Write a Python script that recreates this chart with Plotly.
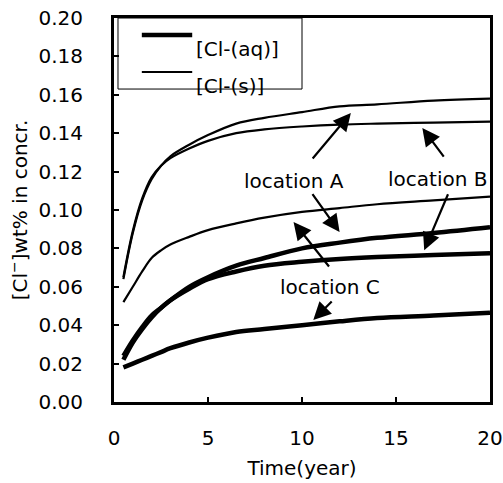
import plotly.graph_objects as go

# ---- data ----
time_x = [0.5, 1.0, 1.5, 2.0, 2.5, 3.0, 4.0, 5.0, 6.5, 8.0, 10.0, 12.0, 14.0, 17.0, 20.0]

cl_s_A  = [0.064, 0.088, 0.105, 0.116, 0.123, 0.128, 0.134, 0.139, 0.145, 0.148, 0.151, 0.154, 0.155, 0.157, 0.158]
cl_s_B  = [0.065, 0.089, 0.106, 0.117, 0.123, 0.127, 0.132, 0.136, 0.140, 0.142, 0.1435, 0.1445, 0.145, 0.1455, 0.146]
cl_s_C  = [0.052, 0.060, 0.068, 0.075, 0.079, 0.082, 0.086, 0.0895, 0.093, 0.096, 0.099, 0.101, 0.103, 0.105, 0.107]
cl_aq_A = [0.022, 0.031, 0.038, 0.044, 0.049, 0.053, 0.060, 0.065, 0.071, 0.075, 0.080, 0.083, 0.0855, 0.088, 0.091]
cl_aq_B = [0.024, 0.032, 0.039, 0.045, 0.049, 0.053, 0.059, 0.064, 0.068, 0.071, 0.073, 0.0745, 0.0755, 0.0765, 0.0775]
cl_aq_C = [0.018, 0.020, 0.022, 0.024, 0.026, 0.028, 0.031, 0.0335, 0.0365, 0.038, 0.040, 0.042, 0.0437, 0.045, 0.0465]

x_ticks = [0, 5, 10, 15, 20]
y_ticks = [0.00, 0.02, 0.04, 0.06, 0.08, 0.10, 0.12, 0.14, 0.16, 0.18, 0.20]
legend_labels = ["[Cl-(aq)]", "[Cl-(s)]"]

# labels and arrows: (text, text_x, text_y, [(tail_x, tail_y, head_x, head_y), ...])
labels = [
    ("location A", 9.6, 0.115, [(10.5, 0.126, 12.6, 0.1505), (10.5, 0.109, 12.0, 0.0885)]),
    ("location B", 17.2, 0.116, [(17.6, 0.127, 16.4, 0.1427), (17.8, 0.109, 16.5, 0.079)]),
    ("location C", 11.5, 0.060, [(11.5, 0.0698, 9.55, 0.0938), (11.66, 0.0531, 10.6, 0.0427)]),
]

FONT = "DejaVu Sans"
thin_w, thick_w = 2.2, 4.5

fig = go.Figure()
for ys in (cl_s_A, cl_s_B, cl_s_C):
    fig.add_trace(go.Scatter(x=time_x, y=ys, mode="lines", line=dict(color="black", width=thin_w, shape="spline"),
                             showlegend=False, hoverinfo="skip"))
for ys in (cl_aq_A, cl_aq_B, cl_aq_C):
    fig.add_trace(go.Scatter(x=time_x, y=ys, mode="lines", line=dict(color="black", width=thick_w, shape="spline"),
                             showlegend=False, hoverinfo="skip"))

annotations = []
for text, tx, ty, arrows in labels:
    annotations.append(dict(x=tx, y=ty, xref="x", yref="y", text=text, showarrow=False,
                            font=dict(family=FONT, size=20, color="black")))
    for (ax_, ay_, hx, hy) in arrows:
        annotations.append(dict(x=hx, y=hy, xref="x", yref="y", ax=ax_, ay=ay_, axref="x", ayref="y",
                                text="", showarrow=True, arrowhead=2, arrowsize=1.6, arrowwidth=2.2,
                                arrowcolor="black"))

# manual legend
shapes = [
    dict(type="rect", xref="paper", yref="paper", x0=0.0106, x1=0.50, y0=0.815, y1=1.0,
         line=dict(color="black", width=1)),
    dict(type="line", xref="paper", yref="paper", x0=0.074, x1=0.208, y0=0.9557, y1=0.9557,
         line=dict(color="black", width=thick_w)),
    dict(type="line", xref="paper", yref="paper", x0=0.074, x1=0.208, y0=0.8594, y1=0.8594,
         line=dict(color="black", width=thin_w)),
]
annotations.append(dict(x=0.2137, y=0.9557, xref="paper", yref="paper", xanchor="left", text=legend_labels[0],
                        showarrow=False, font=dict(family=FONT, size=20, color="black")))
annotations.append(dict(x=0.2137, y=0.8594, xref="paper", yref="paper", xanchor="left", text=legend_labels[1],
                        showarrow=False, font=dict(family=FONT, size=20, color="black")))

axis_common = dict(showline=True, linecolor="black", linewidth=3, mirror=True, showgrid=False, zeroline=False,
                   ticks="inside", ticklen=5, tickwidth=1.5, tickcolor="black", automargin=False,
                   ticklabeloverflow="allow",
                   tickfont=dict(family=FONT, size=20, color="black"))

fig.update_layout(
    width=503, height=483,
    margin=dict(l=114, r=13, t=18, b=81),
    plot_bgcolor="white", paper_bgcolor="white",
    font=dict(family=FONT, color="black"),
    shapes=shapes, annotations=annotations,
    xaxis=dict(range=[0, 20], tickvals=x_ticks, ticktext=[str(v) for v in x_ticks], ticklabelstandoff=16,
               title=dict(text="Time(year)", font=dict(family=FONT, size=20, color="black"), standoff=12),
               **axis_common),
    yaxis=dict(range=[0, 0.20], tickvals=y_ticks, ticktext=[f"{v:.2f}" for v in y_ticks], ticklabelstandoff=24,
               title=dict(text="[Cl<sup>−</sup>]wt% in concr.", font=dict(family=FONT, size=20, color="black"),
                          standoff=6),
               **axis_common),
)

# remove the default 8px page margin so the 503x483 figure fills the window exactly
fig.write_html("out.html", config={"displayModeBar": False},
               post_script="document.body.style.margin='0';")
